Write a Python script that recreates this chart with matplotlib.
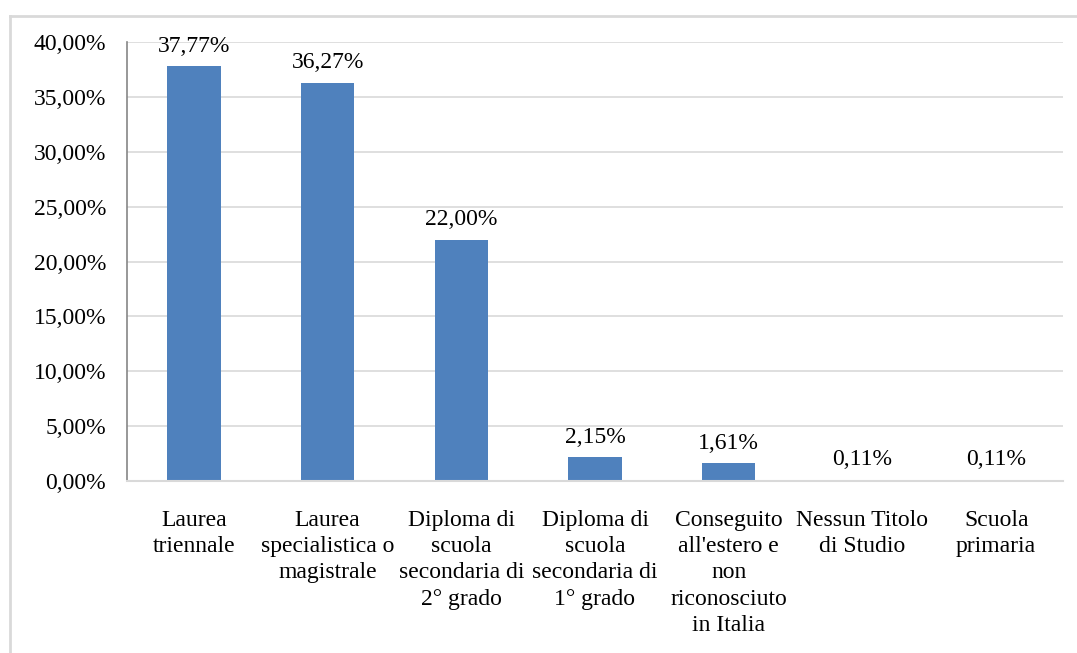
import matplotlib.pyplot as plt
from matplotlib.lines import Line2D

# Data
categories = [
    "Laurea\ntriennale",
    "Laurea\nspecialistica o\nmagistrale",
    "Diploma di\nscuola\nsecondaria di\n2° grado",
    "Diploma di\nscuola\nsecondaria di\n1° grado",
    "Conseguito\nall'estero e\nnon\nriconosciuto\nin Italia",
    "Nessun Titolo\ndi Studio",
    "Scuola\nprimaria",
]
values = [37.77, 36.27, 22.00, 2.15, 1.61, 0.11, 0.11]
yticks = [0, 5, 10, 15, 20, 25, 30, 35, 40]

plt.rcParams['font.family'] = ['Liberation Serif', 'DejaVu Serif']

W, H = 1077, 653
fig = plt.figure(figsize=(W / 100, H / 100), dpi=100)

# chart area frame (only top and left edges visible in the crop)
fig.add_artist(Line2D([10 / W, 10 / W], [0, 1 - 16 / H], color='#d9d9d9', lw=2))
fig.add_artist(Line2D([10 / W, 1], [1 - 16 / H, 1 - 16 / H], color='#d9d9d9', lw=2))

left, right, top, bottom = 127, 1063, 42, 481
ax = fig.add_axes([left / W, 1 - bottom / H, (right - left) / W, (bottom - top) / H])

x = range(len(categories))
bars = ax.bar(x, values, width=0.4, color='#4f81bd', zorder=2)
ax.set_xlim(-0.5, len(categories) - 0.5)
ax.set_ylim(0, 40)

fs = 17
ax.set_yticks(yticks)
ax.set_yticklabels([f"{v:.2f}%".replace('.', ',') for v in yticks], fontsize=fs)
ax.set_xticks(list(x))
ax.set_xticklabels(categories, fontsize=fs, linespacing=1.32, va='top')
ax.tick_params(axis='both', length=0)
ax.tick_params(axis='x', pad=21)
ax.tick_params(axis='y', pad=15)

ax.grid(axis='y', color='#d9d9d9', lw=1.2, zorder=0)
for s in ['top', 'right']:
    ax.spines[s].set_visible(False)
ax.spines['left'].set_color('#868686')
ax.spines['bottom'].set_color('#d9d9d9')
ax.spines['left'].set_linewidth(1.2)
ax.spines['bottom'].set_linewidth(1.5)
ax.spines['bottom'].set_zorder(3)

for b, v in zip(bars, values):
    ax.annotate(f"{v:.2f}%".replace('.', ','), (b.get_x() + b.get_width() / 2, v),
                xytext=(0, 7), textcoords='offset points', ha='center', va='bottom',
                fontsize=fs)

fig.savefig('out.png', dpi=100, facecolor='white')
